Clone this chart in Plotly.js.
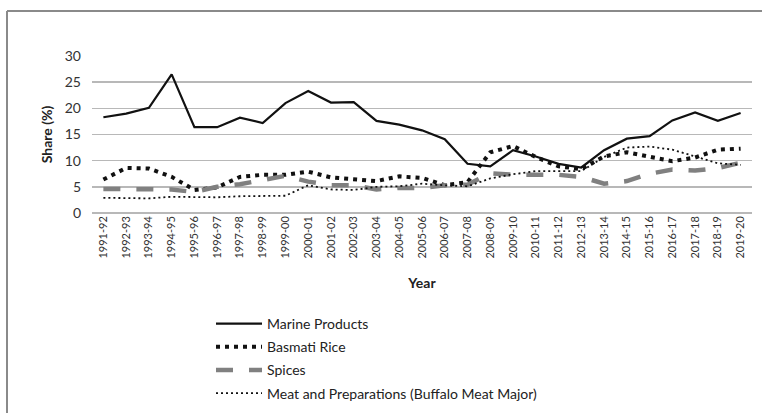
<!DOCTYPE html>
<html>
<head>
<meta charset="utf-8">
<script src="https://cdn.plot.ly/plotly-3.0.1.min.js"></script>
<style>html,body{margin:0;padding:0;background:#fff;}#chart{width:762px;height:413px;}</style>
</head>
<body>
<div id="chart"></div>
<script>
const years = ["1991-92","1992-93","1993-94","1994-95","1995-96","1996-97","1997-98","1998-99","1999-00","2000-01","2001-02","2002-03","2003-04","2004-05","2005-06","2006-07","2007-08","2008-09","2009-10","2010-11","2011-12","2012-13","2013-14","2014-15","2015-16","2016-17","2017-18","2018-19","2019-20"];
const marineProducts = [18.3,19.0,20.1,26.5,16.4,16.4,18.2,17.2,21.0,23.3,21.1,21.2,17.6,16.9,15.8,14.1,9.4,8.9,12.0,10.8,9.4,8.7,12.0,14.2,14.7,17.7,19.2,17.6,19.1];
const basmatiRice = [6.4,8.6,8.5,6.9,4.4,4.9,6.9,7.3,7.3,7.9,6.8,6.4,6.1,7.0,6.7,5.3,5.9,11.6,12.8,10.7,8.9,8.4,10.8,11.6,10.7,9.9,10.6,12.1,12.3];
const spices = [4.6,4.6,4.6,4.5,4.0,5.0,5.5,6.2,7.1,6.0,5.3,5.3,4.5,4.8,4.8,5.3,5.4,7.6,7.3,7.3,7.3,6.9,5.6,6.1,7.5,8.3,8.1,8.6,9.6];
const meatPreparations = [2.9,2.8,2.8,3.1,3.1,3.0,3.2,3.2,3.3,5.3,4.5,4.4,5.0,5.1,5.6,5.3,5.1,6.6,7.4,8.0,8.0,8.0,10.7,12.5,12.7,12.1,10.8,9.5,9.2];
const seriesNames = ["Marine Products","Basmati Rice","Spices","Meat and Preparations (Buffalo Meat Major)"];
const yTicks = [0,5,10,15,20,25,30];

const FONT = "Lato, 'Open Sans', sans-serif";
const traces = [
  {x: years, y: marineProducts, name: seriesNames[0], legendgroup: "a", mode: "lines",
   line: {color: "#111111", width: 2.2}},
  {x: years, y: basmatiRice, name: seriesNames[1], legendgroup: "b", mode: "lines",
   line: {color: "#111111", width: 4, dash: "4px,5px"}},
  {x: years, y: spices, name: seriesNames[2], legendgroup: "c", mode: "lines",
   line: {color: "#808080", width: 4.5, dash: "17px,16px"}},
  {x: years, y: meatPreparations, name: seriesNames[3], legendgroup: "d", mode: "lines",
   line: {color: "#111111", width: 1.8, dash: "2px,3px"}}
];

const T = 56, B = 200, PH = 413 - T - B, L = 92, PW = 660;
const px = v => (v - L) / PW;
const py = v => (413 - B - v) / PH;

const layout = {
  width: 762, height: 413,
  margin: {l: L, r: 10, t: T, b: B, pad: 0, autoexpand: false},
  paper_bgcolor: "#ffffff", plot_bgcolor: "#ffffff",
  font: {family: FONT, color: "#222222", size: 13},
  showlegend: true,
  legend: {x: px(211), y: py(308), xanchor: "left", yanchor: "top",
           orientation: "v", traceorder: "grouped", tracegroupgap: 2, itemwidth: 46,
           font: {family: FONT, size: 14, color: "#222"}, bgcolor: "rgba(0,0,0,0)"},
  xaxis: {type: "category", range: [-0.5, 28.5], showgrid: false, zeroline: false, showline: false,
          ticks: "", tickangle: -90, tickfont: {family: FONT, size: 11, color: "#333"},
          title: {text: "<b>Year</b>", font: {family: FONT, size: 14, color: "#222"}, standoff: 20}},
  yaxis: {range: [0, 30], tickvals: yTicks, showgrid: true, gridcolor: "#b8b8b8", gridwidth: 1.5,
          zeroline: true, zerolinecolor: "#b8b8b8", zerolinewidth: 1.5, showline: false, ticks: "",
          tickfont: {family: FONT, size: 14, color: "#333"}, ticklabelstandoff: 10,
          title: {text: "<b>Share (%)</b>", font: {family: FONT, size: 14, color: "#222"}, standoff: 8}},
  shapes: [
    {type: "line", xref: "paper", yref: "paper", x0: px(7), x1: px(7),
     y0: py(420), y1: py(11), line: {color: "#8a8a8a", width: 2}},
    {type: "line", xref: "paper", yref: "paper", x0: px(7), x1: px(770),
     y0: py(11), y1: py(11), line: {color: "#8a8a8a", width: 2}}
  ]
};

Plotly.newPlot("chart", traces, layout, {displayModeBar: false, staticPlot: true});
</script>
</body>
</html>
